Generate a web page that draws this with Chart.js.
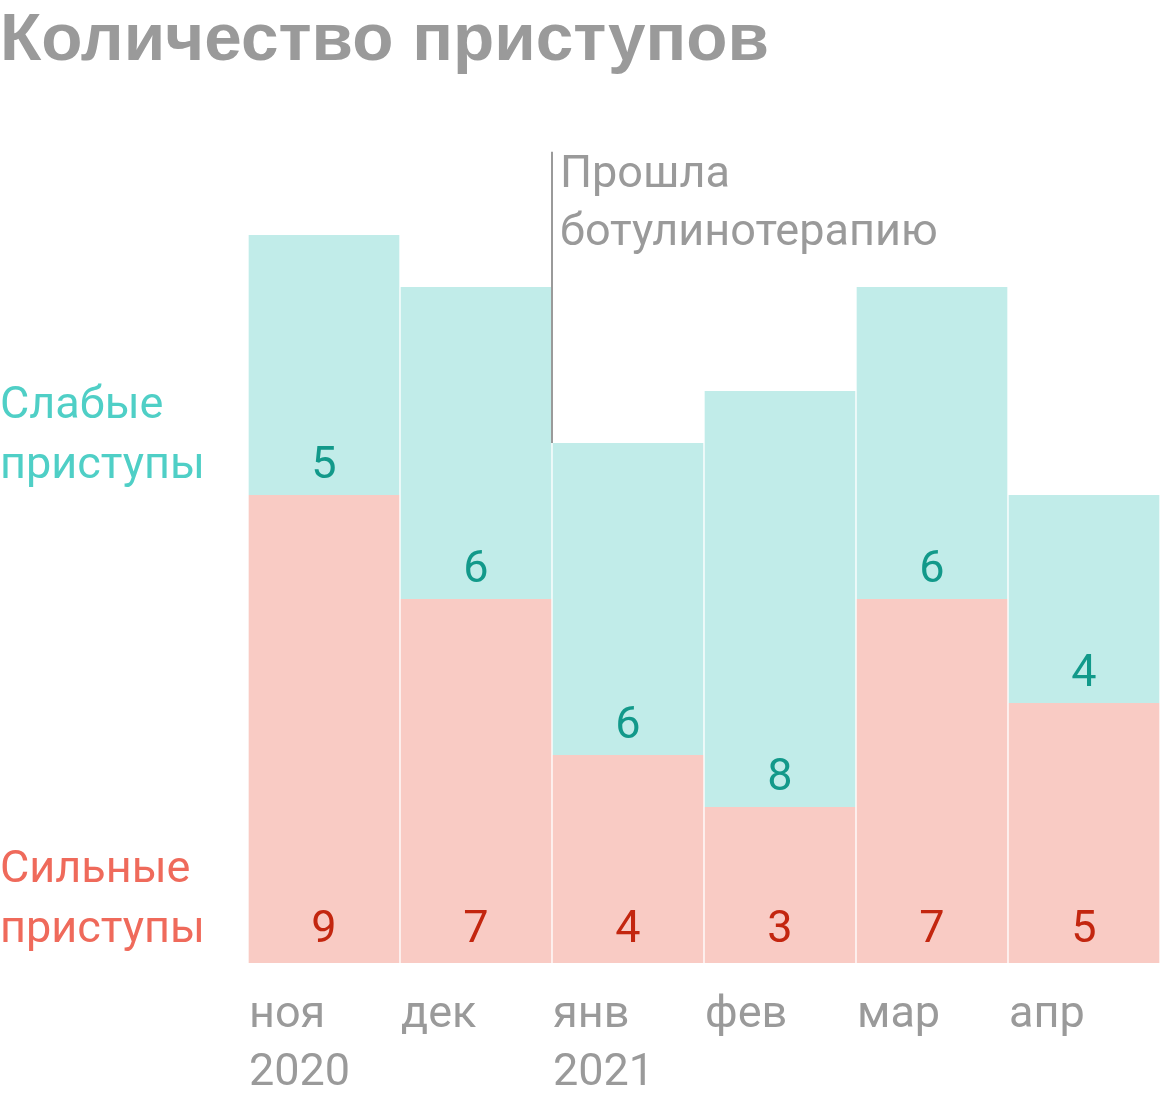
<!DOCTYPE html>
<html lang="ru">
<head>
<meta charset="utf-8">
<title>Количество приступов</title>
<script src="https://cdn.jsdelivr.net/npm/chart.js@4.4.1/dist/chart.umd.min.js"></script>
<style>
  html, body { margin: 0; padding: 0; background: #fff; }
  #wrap { width: 1160px; height: 1104px; position: relative; }
</style>
</head>
<body>
<div id="wrap"><canvas id="chart" width="1160" height="1104"></canvas></div>
<script>
// Данные графика
var TITLE = 'Количество приступов';
var MONTHS = [['ноя', '2020'], ['дек'], ['янв', '2021'], ['фев'], ['мар'], ['апр']];
var STRONG = [9, 7, 4, 3, 7, 5];
var WEAK = [5, 6, 6, 8, 6, 4];
var STRONG_NAME = ['Сильные', 'приступы'];
var WEAK_NAME = ['Слабые', 'приступы'];
var NOTE = ['Прошла', 'ботулинотерапию'];
var NOTE_AT = 2;          // с какого месяца
var NOTE_TOP = 15.6;      // верх линии, в единицах шкалы

var GRAY = '#9a9a9a';
var FONT = 'Roboto, "Noto Sans", sans-serif';

var overlay = {
  id: 'overlay',
  afterDatasetsDraw: function (chart) {
    var ctx = chart.ctx;
    var x = chart.scales.x, y = chart.scales.y;
    var strong = chart.getDatasetMeta(0).data;
    var weak = chart.getDatasetMeta(1).data;
    ctx.save();

    // заголовок
    ctx.textAlign = 'left';
    ctx.textBaseline = 'alphabetic';
    ctx.fillStyle = GRAY;
    ctx.font = 'bold 67.5px "Liberation Sans", Arial, sans-serif';
    ctx.fillText(TITLE, 0, 60);

    // подписи значений
    ctx.font = '45px ' + FONT;
    ctx.textAlign = 'center';
    strong.forEach(function (bar, i) {
      ctx.fillStyle = '#c3260f';
      ctx.fillText(STRONG[i], bar.x, bar.base - 21);
      ctx.fillStyle = '#12998a';
      ctx.fillText(WEAK[i], bar.x, bar.y - 17);
    });

    // названия серий слева
    ctx.textAlign = 'left';
    var wy = strong[0].y - 17, sy = strong[0].base - 21;
    ctx.fillStyle = '#4fcfc6';
    ctx.fillText(WEAK_NAME[0], 0, wy - 60);
    ctx.fillText(WEAK_NAME[1], 0, wy);
    ctx.fillStyle = '#ef6a5b';
    ctx.fillText(STRONG_NAME[0], 0, sy - 60);
    ctx.fillText(STRONG_NAME[1], 0, sy);

    // отметка о ботулинотерапии
    var lx = x.getPixelForValue(NOTE_AT - 0.5);
    var top = y.getPixelForValue(NOTE_TOP);
    ctx.strokeStyle = GRAY;
    ctx.lineWidth = 2;
    ctx.beginPath();
    ctx.moveTo(lx, top);
    ctx.lineTo(lx, weak[NOTE_AT].y);
    ctx.stroke();
    ctx.fillStyle = GRAY;
    ctx.fillText(NOTE[0], lx + 8, top + 35);
    ctx.fillText(NOTE[1], lx + 8, top + 93);

    ctx.restore();
  }
};

var side = { left: 1, right: 1, top: 0, bottom: 0 };

new Chart(document.getElementById('chart'), {
  type: 'bar',
  data: {
    labels: MONTHS,
    datasets: [
      { label: STRONG_NAME.join(' '), data: STRONG, backgroundColor: '#f9cbc4',
        borderColor: '#fff', borderWidth: side, borderSkipped: false },
      { label: WEAK_NAME.join(' '), data: WEAK, backgroundColor: '#c1ece9',
        borderColor: '#fff', borderWidth: side, borderSkipped: false }
    ]
  },
  options: {
    responsive: false,
    animation: false,
    events: [],
    layout: { padding: { left: 248, top: 235, right: 0, bottom: 0 } },
    datasets: { bar: { categoryPercentage: 1, barPercentage: 1 } },
    plugins: { legend: { display: false }, tooltip: { enabled: false } },
    scales: {
      x: {
        stacked: true,
        grid: { display: false, drawTicks: false },
        border: { display: false },
        ticks: {
          align: 'start', labelOffset: -75, padding: 23, autoSkip: false, maxRotation: 0,
          color: GRAY, font: { family: FONT, size: 45, lineHeight: 1.3 }
        },
        // без лишних полей под подписи
        afterFit: function (s) { s.height = 141; s.paddingLeft = 0; s.paddingRight = 0; }
      },
      y: { stacked: true, display: false, min: 0, max: 14 }
    }
  },
  plugins: [overlay]
});
</script>
</body>
</html>
